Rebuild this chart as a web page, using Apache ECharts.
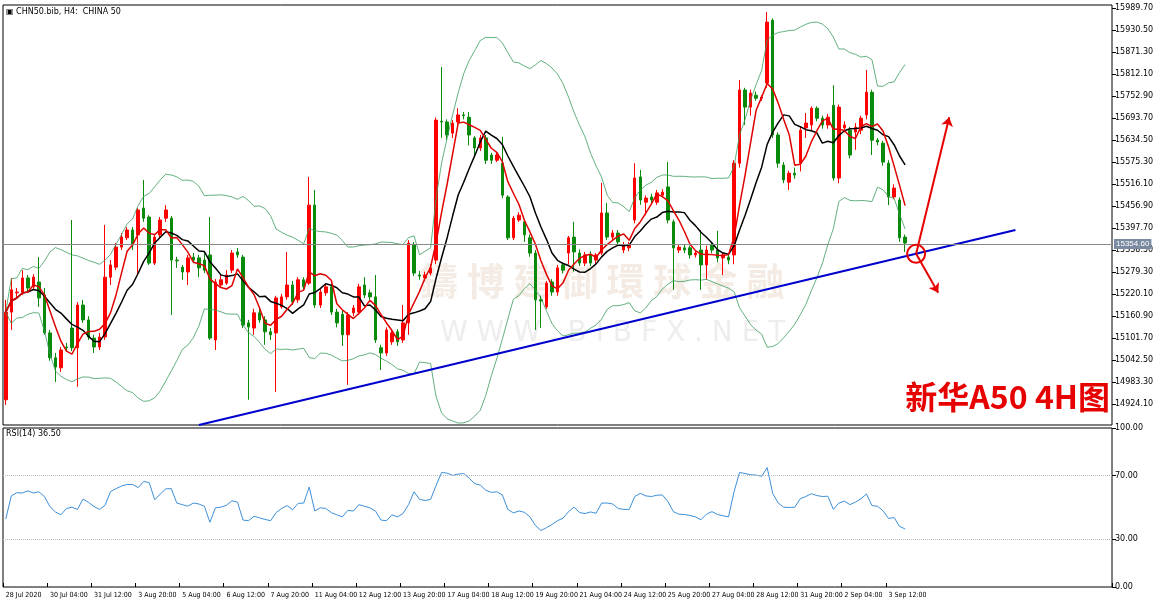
<!DOCTYPE html>
<html><head><meta charset="utf-8">
<script src="https://cdn.jsdelivr.net/npm/echarts@6/dist/echarts.min.js"></script>
<style>html,body{margin:0;padding:0;background:#fff}#c{width:1170px;height:607px}</style>
</head><body><div id="c"></div>
<script>
// [open, close, low, high]
const candles = [
[14935,15171,14921,15204],[15171,15231,15123,15263],[15223,15225,15209,15236],[15225,15263,15217,15284],[15263,15236,15225,15271],
[15239,15265,15231,15273],[15252,15209,15185,15319],[15217,15115,15110,15236],[15115,15048,15040,15123],[15048,15023,14983,15061],
[15021,15069,15010,15077],[15077,15075,15064,15088],[15128,15075,15066,15419],[15075,15190,14970,15198],[15190,15150,15142,15204],
[15150,15104,15096,15160],[15101,15077,15061,15110],[15077,15104,15069,15115],[15104,15265,15096,15406],[15265,15298,15244,15311],
[15292,15346,15284,15357],[15346,15373,15338,15384],[15371,15392,15365,15400],[15392,15352,15338,15400],[15379,15446,15271,15451],
[15451,15424,15414,15527],[15427,15303,15298,15432],[15303,15373,15298,15379],[15379,15419,15371,15427],[15424,15446,15414,15459],
[15424,15311,15163,15430],[15311,15309,15290,15320],[15292,15279,15258,15298],[15279,15317,15244,15325],[15319,15311,15303,15330],
[15317,15290,15265,15325],[15311,15284,15276,15330],[15325,15101,15096,15427],[15096,15252,15069,15260],[15244,15258,15236,15271],
[15249,15271,15244,15284],[15284,15330,15276,15338],[15333,15325,15317,15344],[15319,15136,15128,15325],[15142,15131,14935,15150],
[15128,15169,15110,15180],[15169,15150,15142,15180],[15150,15118,15083,15160],[15118,15110,15096,15128],[15115,15209,14956,15215],
[15185,15212,15180,15220],[15212,15244,15204,15333],[15244,15198,15190,15255],[15204,15258,15196,15265],[15258,15239,15231,15265],
[15249,15459,15244,15535],[15459,15190,15182,15500],[15190,15225,15182,15233],[15223,15239,15215,15247],[15239,15171,15163,15247],
[15171,15142,15130,15180],[15165,15110,15080,15175],[15110,15163,14975,15171],[15169,15182,15160,15190],[15171,15239,15163,15247],
[15244,15217,15209,15265],[15223,15212,15204,15231],[15212,15096,15088,15271],[15075,15061,15015,15083],[15061,15123,15053,15130],
[15091,15115,15083,15120],[15118,15091,15080,15125],[15096,15142,15088,15190],[15142,15357,15110,15365],[15352,15276,15268,15360],
[15271,15268,15258,15282],[15263,15271,15255,15280],[15276,15290,15270,15300],[15311,15688,15300,15695],[15685,15683,15640,15831],
[15683,15648,15635,15690],[15653,15680,15640,15688],[15683,15702,15675,15720],[15702,15700,15690,15710],[15696,15648,15620,15710],
[15640,15613,15590,15645],[15613,15640,15605,15648],[15640,15580,15570,15648],[15594,15580,15570,15600],[15580,15594,15575,15600],
[15572,15486,15478,15643],[15481,15371,15365,15486],[15371,15424,15365,15430],[15419,15432,15414,15440],[15414,15379,15360,15420],
[15371,15330,15320,15380],[15330,15204,15123,15338],[15204,15201,15128,15215],[15185,15249,15180,15255],[15252,15225,15215,15260],
[15225,15290,15215,15298],[15298,15284,15275,15305],[15330,15371,15300,15376],[15373,15333,15280,15414],[15330,15303,15295,15340],
[15303,15325,15295,15333],[15325,15303,15295,15335],[15311,15325,15300,15330],[15330,15438,15325,15519],[15438,15373,15365,15465],
[15373,15384,15365,15392],[15384,15360,15350,15392],[15338,15352,15330,15360],[15344,15352,15335,15360],[15419,15532,15410,15572],
[15535,15473,15460,15554],[15467,15478,15432,15485],[15481,15473,15465,15490],[15467,15492,15460,15500],[15486,15494,15480,15502],
[15508,15419,15410,15575],[15414,15344,15231,15420],[15338,15346,15330,15352],[15344,15338,15330,15352],[15344,15325,15315,15350],
[15325,15330,15318,15335],[15338,15298,15231,15392],[15298,15338,15258,15350],[15352,15338,15330,15360],[15338,15317,15305,15390],
[15317,15325,15271,15330],[15319,15311,15300,15325],[15325,15572,15300,15580],[15572,15769,15560,15796],[15769,15723,15675,15775],
[15723,15761,15700,15770],[15755,15747,15740,15765],[15747,15750,15740,15755],[15788,15952,15775,15979],[15957,15648,15640,15962],
[15648,15572,15560,15655],[15567,15527,15518,15575],[15521,15545,15500,15552],[15545,15540,15530,15560],[15572,15661,15550,15670],
[15667,15680,15640,15707],[15675,15720,15660,15725],[15720,15693,15685,15725],[15693,15675,15665,15700],[15675,15696,15665,15705],
[15728,15532,15525,15782],[15532,15723,15518,15730],[15667,15675,15655,15685],[15661,15594,15585,15670],[15656,15669,15608,15680],
[15661,15693,15650,15700],[15702,15763,15690,15823],[15763,15634,15594,15770],[15634,15629,15620,15640],[15626,15575,15565,15632],
[15572,15481,15459,15580],[15481,15505,15475,15515],[15473,15371,15360,15480],[15373,15357,15333,15380]
];
const rsiValues = [
42.7,57.3,59.3,59.1,60.5,59.1,59.9,56.9,50.6,47.2,
45.4,49.4,50.2,48.8,55.3,53.2,50.6,48.8,51.4,60.1,
61.9,63.5,64.5,64.5,62.5,66.4,65.6,54.9,58.5,61.7,
61.9,52.8,51.8,50.8,52.8,52.2,50.8,40.7,49.8,50.2,
51.4,54.2,53.4,42.1,41.7,44.5,43.5,42.5,41.7,46.8,
49.4,51.2,48.6,52.6,52.8,62.9,47.8,49.8,49.4,46.8,
45.4,44.1,48.2,47.8,51.8,50.8,49.8,47.8,42.1,41.7,
45.4,44.1,46.2,51.8,59.9,55.1,54.4,55.1,63.9,72.0,
71.6,70.2,71.0,71.4,
68.4,65.0,64.1,60.9,59.5,59.9,57.9,48.8,46.6,47.8,
47.0,44.1,38.7,35.5,37.3,39.3,41.7,43.3,47.4,50.2,
46.8,46.2,47.2,46.4,52.8,52.8,52.2,49.4,48.8,48.8,
56.9,58.9,57.3,56.9,57.7,57.9,53.8,47.4,45.8,45.6,
45.0,44.1,42.3,45.8,47.4,45.6,44.8,44.1,59.9,72.0,
71.4,70.6,70.4,69.6,75.1,58.9,52.8,50.2,50.0,50.2,
55.5,56.9,58.7,57.5,56.9,57.1,48.8,52.8,54.0,51.8,
53.4,55.5,58.5,51.2,50.8,48.0,43.1,43.7,38.1,36.5
];
const dateLabels = ['28 Jul 2020','30 Jul 04:00','31 Jul 12:00','3 Aug 20:00','5 Aug 04:00','6 Aug 12:00','7 Aug 20:00','11 Aug 04:00','12 Aug 12:00','13 Aug 20:00','17 Aug 04:00','18 Aug 12:00','19 Aug 20:00','21 Aug 04:00','24 Aug 12:00','25 Aug 20:00','27 Aug 04:00','28 Aug 12:00','31 Aug 20:00','2 Sep 04:00','3 Sep 12:00'];
const priceTicks = [14924.10,14983.30,15042.50,15101.70,15160.90,15220.10,15279.30,15338.50,15397.70,15456.90,15516.10,15575.30,15634.50,15693.70,15752.90,15812.10,15871.30,15930.50,15989.70];
const rsiTicks = [0,30,70,100];
const lastPrice = 15354.60;
const trendLine = [[35.3,14867],[183,15392]];
const arrowUp = [[165,15328],[171.2,15696]];
const arrowDown = [[165,15328],[168.7,15223]];

const TOTAL = 201;
const cats = Array.from({length:TOTAL},(_,i)=>String(i));
const closes = candles.map(c=>c[1]);
function sma(n){return closes.map((_,i)=>{const s=closes.slice(Math.max(0,i-n+1),i+1);return +(s.reduce((a,b)=>a+b,0)/s.length).toFixed(1);});}
const ma5=sma(5), ma10=sma(10);
const bbU=[],bbL=[];
closes.forEach((_,i)=>{const s=closes.slice(Math.max(0,i-19),i+1);const m=s.reduce((a,b)=>a+b,0)/s.length;const sd=Math.sqrt(s.reduce((a,b)=>a+(b-m)*(b-m),0)/s.length);bbU.push(+(m+2*sd).toFixed(1));bbL.push(+(m-2*sd).toFixed(1));});

const chart=echarts.init(document.getElementById('c'));
const lab={fontSize:8,color:'#000',fontFamily:'DejaVu Sans'};
const showTick=(i)=>i%8===0&&i/8<dateLabels.length;
chart.setOption({
 animation:false,
 grid:[{left:3,right:58,top:5,bottom:182,show:true,borderColor:'#000',borderWidth:1},
       {left:3,right:58,top:428,bottom:20,show:true,borderColor:'#000',borderWidth:1}],
 xAxis:[{type:'category',data:cats,gridIndex:0,boundaryGap:true,axisLine:{show:false},axisTick:{show:false},axisLabel:{show:false}},
        {type:'category',data:cats,gridIndex:1,boundaryGap:true,axisLine:{show:false},
         axisTick:{show:true,interval:showTick,length:-4,lineStyle:{color:'#000'}},
         axisLabel:{interval:showTick,hideOverlap:false,formatter:(v,i)=>dateLabels[i/8]||'',color:'#000',fontFamily:'DejaVu Sans Condensed',fontSize:7,align:'left',margin:5}}],
 yAxis:[{type:'value',gridIndex:0,position:'right',min:14867,max:15998,axisLine:{show:false},splitLine:{show:false},
         axisTick:{show:true,customValues:priceTicks,length:4,lineStyle:{color:'#000'}},
         axisLabel:{customValues:priceTicks,formatter:v=>v.toFixed(2),...lab,margin:3}},
        {type:'value',gridIndex:1,position:'right',min:0,max:100,axisLine:{show:false},
         splitLine:{show:false},axisTick:{show:true,customValues:rsiTicks,length:4,lineStyle:{color:'#000'}},
         axisLabel:{customValues:rsiTicks,formatter:v=>v.toFixed(2),...lab,margin:3}}],
 graphic:[
  {type:'text',left:6,top:8,style:{text:'▣ CHN50.bib, H4:  CHINA 50',font:'8px DejaVu Sans',fill:'#000'}},
  {type:'text',left:6,top:430,style:{text:'RSI(14) 36.50',font:'8px DejaVu Sans',fill:'#000'}},
  {type:'text',left:420,top:262,z:-1,style:{text:'鑄 博 建 御 環 球 金 融',font:'bold 38px "Noto Sans CJK TC"',fill:'rgba(200,160,120,0.2)'}},
  {type:'text',left:440,top:320,z:-1,style:{text:'W W W . B I B F X . N E T',font:'28px DejaVu Sans',fill:'rgba(150,150,150,0.17)'}},
  {type:'text',right:60,top:381,style:{text:'新华A50 4H图',font:'bold 32px "Noto Sans CJK SC"',fill:'#e60000'}}
 ],
 series:[
  {type:'candlestick',xAxisIndex:0,yAxisIndex:0,data:candles,barWidth:3,
   itemStyle:{color:'#ff0000',color0:'#0a8a0a',borderColor:'#ff0000',borderColor0:'#0a8a0a',borderWidth:1},
   markLine:{silent:true,symbol:'none',animation:false,data:[
     [{coord:trendLine[0],lineStyle:{color:'#0000cc',width:2,type:'solid'}},{coord:trendLine[1]}],
     [{coord:arrowUp[0],symbol:'none',lineStyle:{color:'#e60000',width:2,type:'solid'}},{coord:arrowUp[1],symbol:'arrow',symbolSize:9}],
     [{coord:arrowDown[0],symbol:'none',lineStyle:{color:'#e60000',width:2,type:'solid'}},{coord:arrowDown[1],symbol:'arrow',symbolSize:9}],
     {yAxis:lastPrice,lineStyle:{color:'#888',width:1,type:'solid'},label:{show:true,position:'end',formatter:lastPrice.toFixed(2),fontSize:8,color:'#fff',backgroundColor:'#7a8aa0',padding:[1,2],distance:2}}
   ],label:{show:false}},
   markPoint:{silent:true,data:[{coord:arrowUp[0],symbol:'circle',symbolSize:18,itemStyle:{color:'rgba(0,0,0,0)',borderColor:'#e60000',borderWidth:2},label:{show:false}}]}},
  {type:'line',data:bbU,symbol:'none',lineStyle:{color:'#3a9d5d',width:0.8}},
  {type:'line',data:bbL,symbol:'none',lineStyle:{color:'#3a9d5d',width:0.8}},
  {type:'line',data:ma10,symbol:'none',lineStyle:{color:'#000',width:1.5}},
  {type:'line',data:ma5,symbol:'none',lineStyle:{color:'#e00000',width:1.5}},
  {type:'line',xAxisIndex:1,yAxisIndex:1,data:rsiValues,symbol:'none',lineStyle:{color:'#3d8fd8',width:1},
   markLine:{silent:true,symbol:'none',label:{show:false},lineStyle:{color:'#bbb',type:'dotted',width:1},data:[{yAxis:70},{yAxis:30}]}}
 ]
});
</script></body></html>
